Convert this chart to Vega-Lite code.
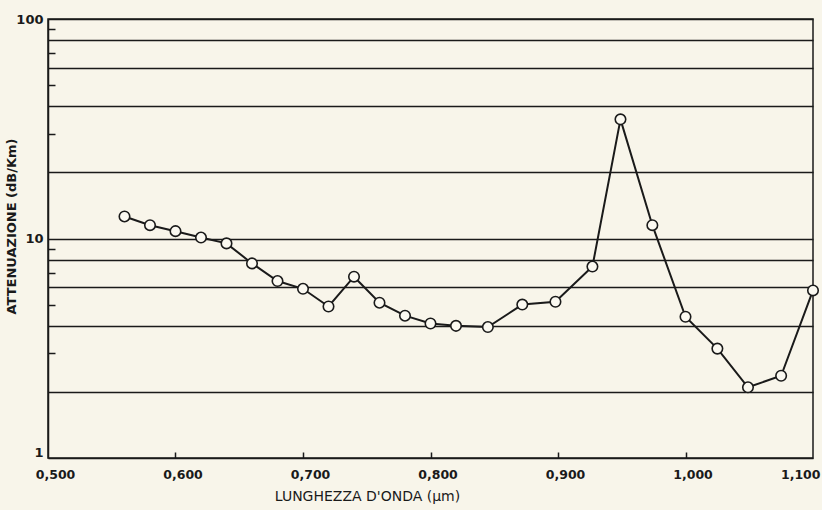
{
  "$schema": "https://vega.github.io/schema/vega-lite/v6.json",
  "width": 765,
  "height": 439,
  "autosize": "none",
  "padding": {"left": 48, "top": 19, "right": 9, "bottom": 52},
  "background": "#f8f5ea",
  "config": {
    "view": {"stroke": "#1a1a1a", "strokeWidth": 1.5},
    "font": "DejaVu Sans"
  },
  "data": {
    "values": [
      {"lambda": 0.56, "att": 12.6},
      {"lambda": 0.58, "att": 11.5},
      {"lambda": 0.60, "att": 10.8},
      {"lambda": 0.62, "att": 10.1},
      {"lambda": 0.64, "att": 9.5},
      {"lambda": 0.66, "att": 7.7},
      {"lambda": 0.68, "att": 6.4},
      {"lambda": 0.70, "att": 5.9},
      {"lambda": 0.72, "att": 4.9},
      {"lambda": 0.74, "att": 6.7},
      {"lambda": 0.76, "att": 5.1},
      {"lambda": 0.78, "att": 4.45},
      {"lambda": 0.80, "att": 4.1},
      {"lambda": 0.82, "att": 4.0},
      {"lambda": 0.845, "att": 3.95},
      {"lambda": 0.872, "att": 5.0},
      {"lambda": 0.898, "att": 5.15},
      {"lambda": 0.927, "att": 7.45},
      {"lambda": 0.949, "att": 34.9},
      {"lambda": 0.974, "att": 11.5},
      {"lambda": 1.0, "att": 4.4},
      {"lambda": 1.025, "att": 3.15},
      {"lambda": 1.049, "att": 2.1},
      {"lambda": 1.075, "att": 2.37},
      {"lambda": 1.1, "att": 5.8}
    ]
  },
  "encoding": {
    "x": {
      "field": "lambda",
      "type": "quantitative",
      "scale": {"domain": [0.5, 1.1], "nice": false, "zero": false},
      "axis": {
        "values": [0.5, 0.6, 0.7, 0.8, 0.9, 1.0, 1.1],
        "labelExpr": "replace(format(datum.value, '.3f'), '.', ',')",
        "grid": false,
        "domainColor": "#1a1a1a",
        "domainWidth": 1.5,
        "tickColor": "#1a1a1a",
        "tickSize": -6,
        "tickOpacity": {"condition": {"test": "datum.value > 0.55 && datum.value < 1.05", "value": 1}, "value": 0},
        "tickWidth": 1.5,
        "labelFont": "DejaVu Sans",
        "labelFontSize": 12.5,
        "labelFontWeight": "bold",
        "labelColor": "#1a1a1a",
        "labelPadding": 16,
        "labelFlush": false,
        "labelOffset": 7,
        "labelAlign": {"condition": {"test": "datum.value > 1.05", "value": "right"}, "value": "center"},
        "title": "LUNGHEZZA D'ONDA (µm)",
        "titleFont": "DejaVu Sans",
        "titleFontSize": 14,
        "titleFontWeight": "normal",
        "titleColor": "#1a1a1a",
        "titleX": 319,
        "titleY": 38,
        "titleBaseline": "middle",
        "titleAnchor": "middle"
      }
    },
    "y": {
      "field": "att",
      "type": "quantitative",
      "scale": {"type": "log", "domain": [1, 100], "nice": false},
      "axis": {
        "values": [1, 2, 3, 4, 5, 6, 7, 8, 9, 10, 20, 30, 40, 50, 60, 70, 80, 90, 100],
        "labelExpr": "datum.value == 1 || datum.value == 10 || datum.value == 100 ? datum.value : ''",
        "grid": true,
        "gridColor": "#1a1a1a",
        "gridWidth": 1.5,
        "gridOpacity": {"condition": {"test": "indexof([2,4,6,8,10,20,40,60,80,100], datum.value) >= 0", "value": 1}, "value": 0},
        "tickSize": -7,
        "tickOpacity": {"condition": {"test": "indexof([3,5,7,9,30,50,70,90], datum.value) >= 0", "value": 1}, "value": 0},
        "tickColor": "#1a1a1a",
        "tickWidth": 1.5,
        "domainColor": "#1a1a1a",
        "domainWidth": 1.5,
        "labelFont": "DejaVu Sans",
        "labelFontSize": 13,
        "labelFontWeight": "bold",
        "labelColor": "#1a1a1a",
        "labelPadding": 12,
        "labelOffset": {"condition": {"test": "datum.value == 1", "value": -6}, "value": 0},
        "labelFlush": false,
        "labelOverlap": false,
        "title": "ATTENUAZIONE (dB/Km)",
        "titleFont": "DejaVu Sans",
        "titleFontSize": 13,
        "titleFontWeight": "bold",
        "titleColor": "#1a1a1a",
        "titleX": -30,
        "titleY": 207,
        "titleAnchor": "middle"
      }
    }
  },
  "layer": [
    {"mark": {"type": "line", "color": "#1a1a1a", "strokeWidth": 2, "clip": false}},
    {"mark": {"type": "point", "shape": "circle", "filled": true, "fill": "#fbf9f1", "stroke": "#1a1a1a", "strokeWidth": 1.6, "size": 110, "opacity": 1, "clip": false}}
  ]
}
